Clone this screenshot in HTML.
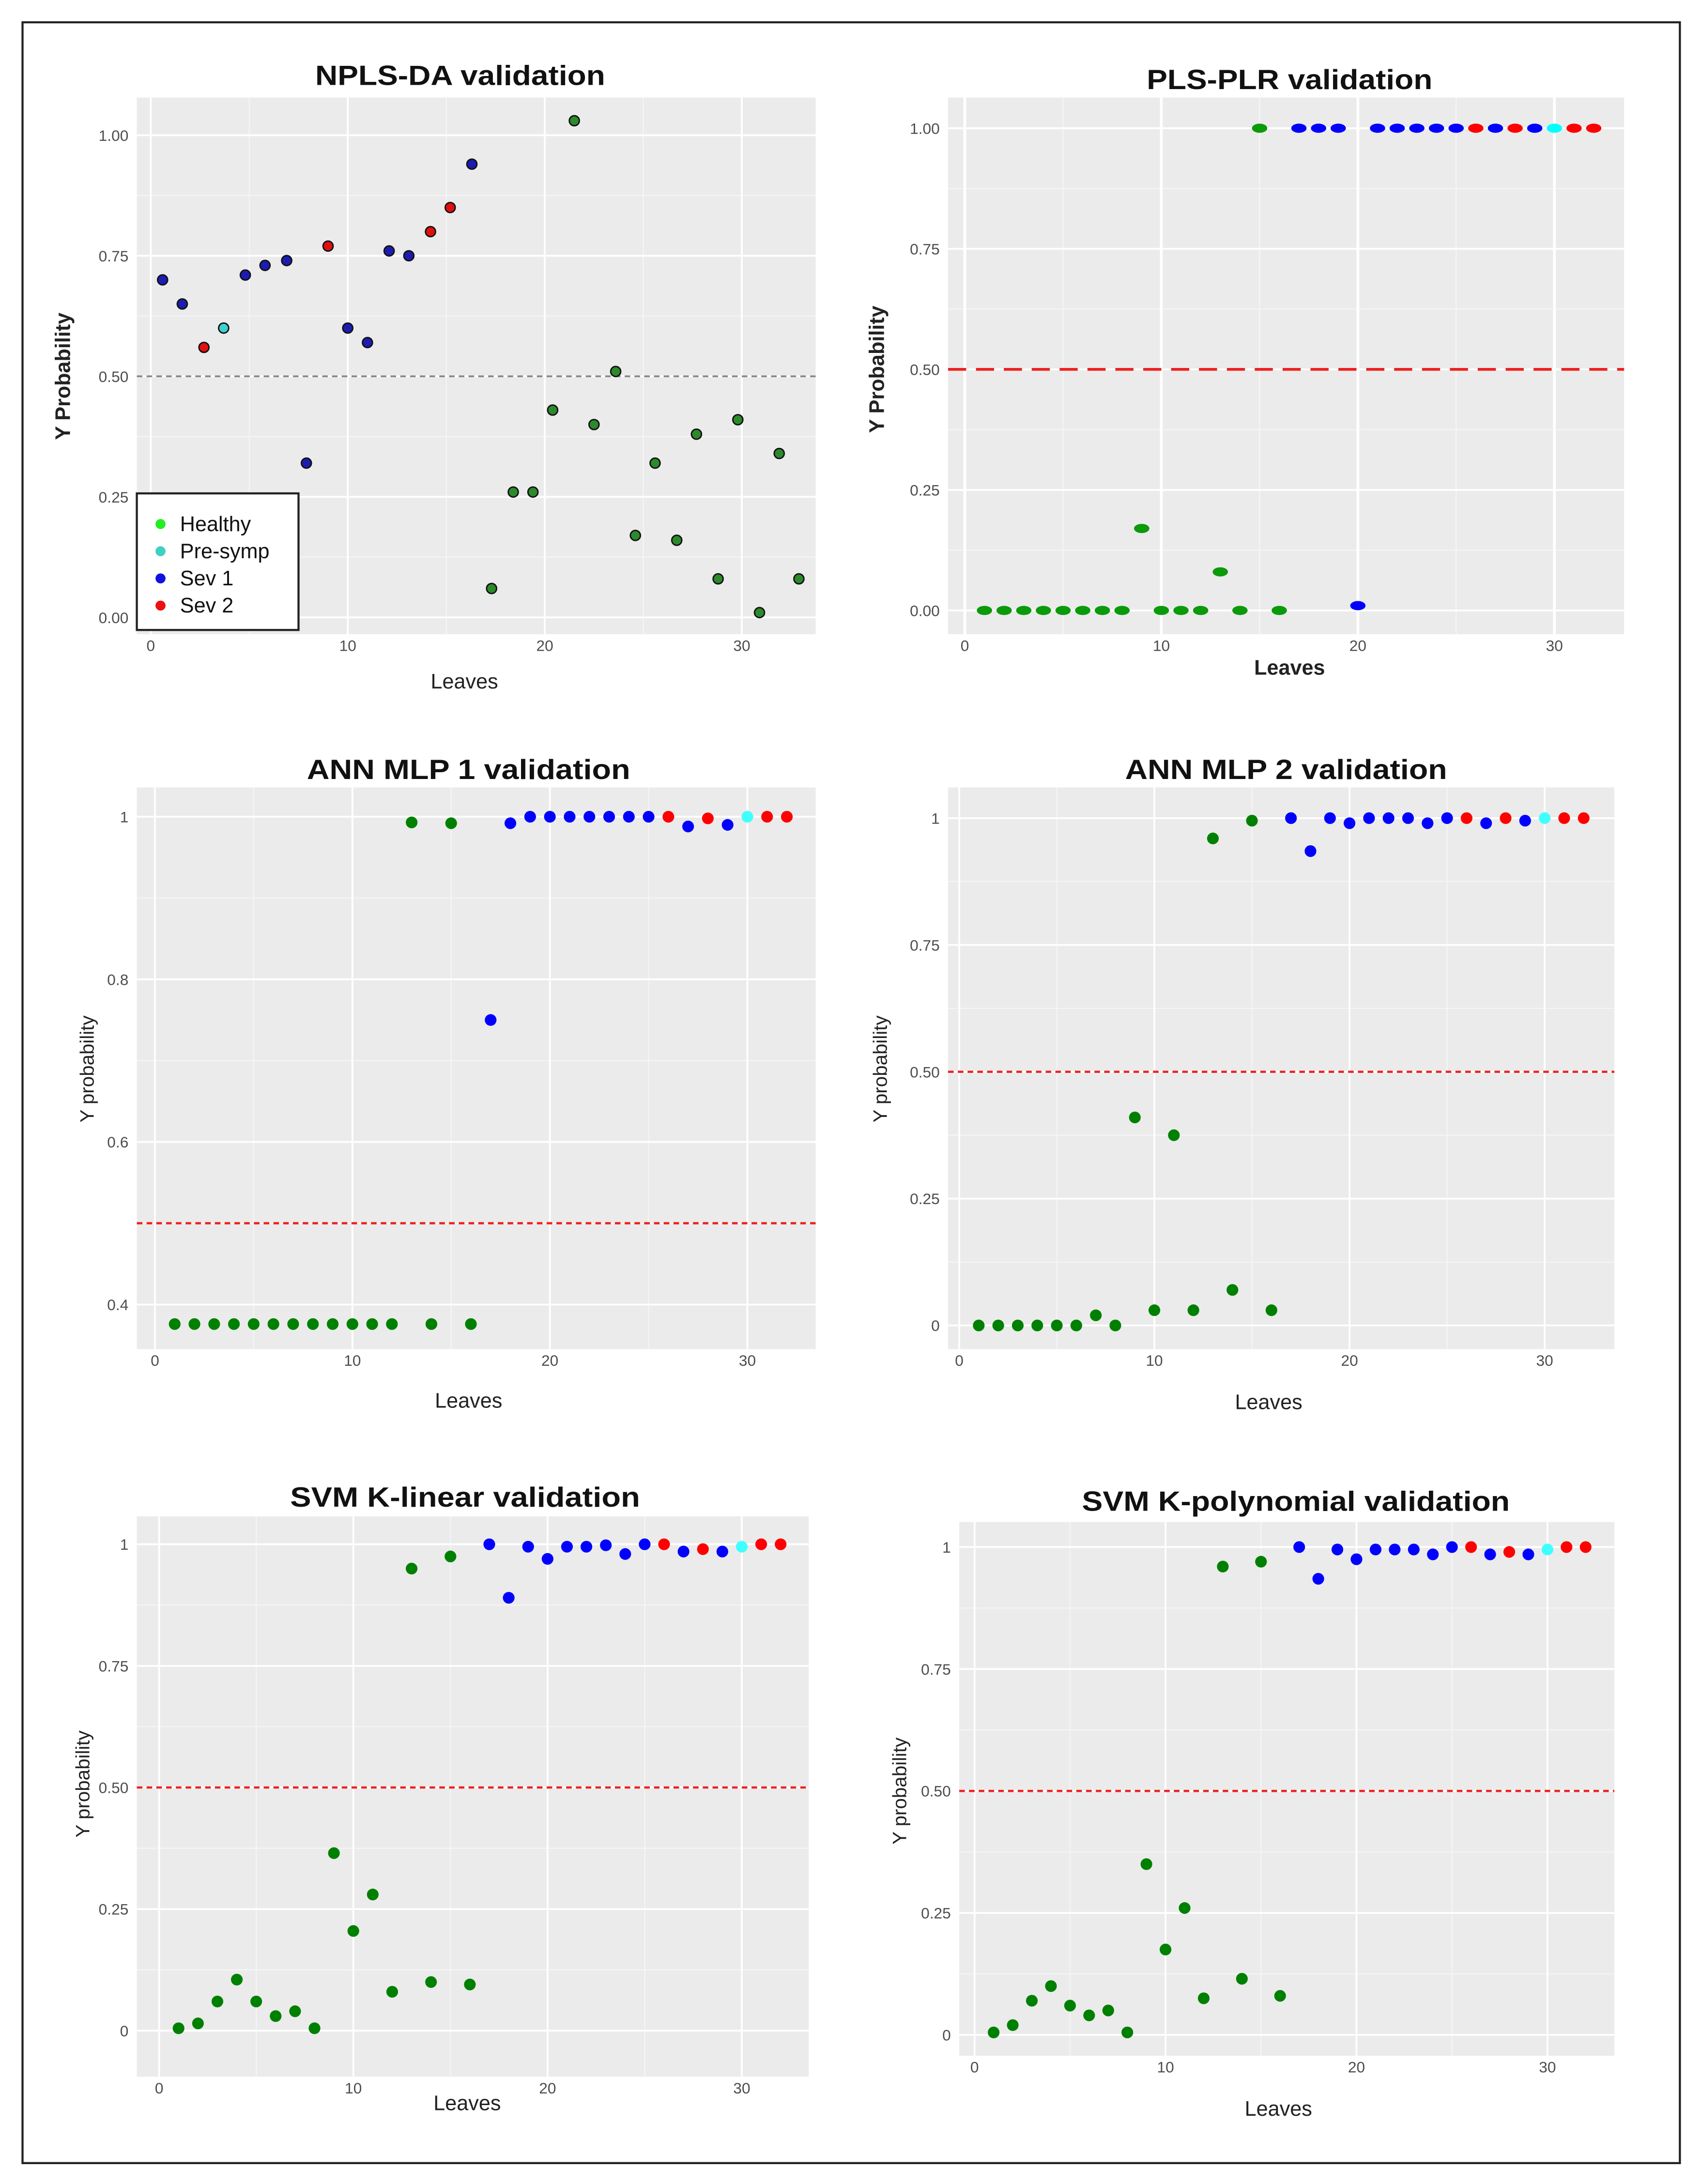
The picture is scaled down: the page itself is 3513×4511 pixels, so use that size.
<!DOCTYPE html>
<html><head><meta charset="utf-8"><style>
html,body{margin:0;padding:0;background:#fff}
svg{display:block}
text{font-family:"Liberation Sans",sans-serif}
</style></head><body>
<svg id="fig" width="3513" height="4511" viewBox="0 0 1220 1567" xmlns="http://www.w3.org/2000/svg">
<rect x="0" y="0" width="1220" height="1567" fill="#fff"/>
<rect x="16" y="16" width="1189" height="1536" fill="none" stroke="#222" stroke-width="1.5"/>
</svg>
<script>
// ---- data ----
const leaves=[1,2,3,4,5,6,7,8,9,10,11,12,13,14,15,16,17,18,19,20,21,22,23,24,25,26,27,28,29,30,31,32];
const p1X=[0.6,1.6,2.7,3.7,4.8,5.8,6.9,7.9,9.0,10.0,11.0,12.1,13.1,14.2,15.2,16.3,17.3,18.4,19.4,20.4,21.5,22.5,23.6,24.6,25.6,26.7,27.7,28.8,29.8,30.9,31.9,32.9];
const p1Y=[0.70,0.65,0.56,0.60,0.71,0.73,0.74,0.32,0.77,0.60,0.57,0.76,0.75,0.80,0.85,0.94,0.06,0.26,0.26,0.43,1.03,0.40,0.51,0.17,0.32,0.16,0.38,0.08,0.41,0.01,0.34,0.08];
const p1Cat=['s1','s1','s2','ps','s1','s1','s1','s1','s2','s1','s1','s1','s1','s2','s2','s1','h','h','h','h','h','h','h','h','h','h','h','h','h','h','h','h'];
const catStd=['h','h','h','h','h','h','h','h','h','h','h','h','h','h','h','h','s1','s1','s1','s1','s1','s1','s1','s1','s1','s2','s1','s2','s1','ps','s2','s2'];
const p2Y=[0,0,0,0,0,0,0,0,0.17,0,0,0,0.08,0,1,0,1,1,1,0.01,1,1,1,1,1,1,1,1,1,1,1,1];
const p3Y=[0.376,0.376,0.376,0.376,0.376,0.376,0.376,0.376,0.376,0.376,0.376,0.376,0.993,0.376,0.992,0.376,0.75,0.992,1,1,1,1,1,1,1,1,0.988,0.998,0.99,1,1,1];
const p4Y=[0,0,0,0,0,0,0.02,0,0.41,0.03,0.375,0.03,0.96,0.07,0.995,0.03,1,0.935,1,0.99,1,1,1,0.99,1,1,0.99,1,0.995,1,1,1];
const p5Y=[0.005,0.015,0.06,0.105,0.06,0.03,0.04,0.005,0.365,0.205,0.28,0.08,0.95,0.10,0.975,0.095,1,0.89,0.995,0.97,0.995,0.995,0.998,0.98,1,1,0.985,0.99,0.985,0.995,1,1];
const p6Y=[0.005,0.02,0.07,0.10,0.06,0.04,0.05,0.005,0.35,0.175,0.26,0.075,0.96,0.115,0.97,0.08,1,0.935,0.995,0.975,0.995,0.995,0.995,0.985,1,1,0.985,0.99,0.985,0.995,1,1];
const xTicks=[0,10,20,30];
const yTicksA=[0,0.25,0.5,0.75,1];
const yLabA=['0.00','0.25','0.50','0.75','1.00'];
const yTicksB=[0,0.25,0.5,0.75,1];
const yLabB=['0','0.25','0.50','0.75','1'];
const yTicksC=[0.4,0.6,0.8,1];
const yLabC=['0.4','0.6','0.8','1'];
const legendCats=['h','ps','s1','s2'];
const legendNames=['Healthy','Pre-symp','Sev 1','Sev 2'];

const svg=document.getElementById('fig');
const NS='http://www.w3.org/2000/svg';
function mk(tag,attrs,parent){const e=document.createElementNS(NS,tag);for(const k in attrs)e.setAttribute(k,attrs[k]);(parent||svg).appendChild(e);return e;}

const colA={h:'#2b8a2b',ps:'#3fd0d0',s1:'#1c1cb0',s2:'#e01010'};
const colB={h:'#0a9a0a',ps:'#00ffff',s1:'#0000ff',s2:'#ff0000'};
const colC={h:'#008000',ps:'#40ffff',s1:'#0000ff',s2:'#ff0000'};

function panel(cfg){
  const g=mk('g',{});
  
  
  const sx=v=>cfg.x0+(cfg.x30-cfg.x0)*v/30;
  const sy=v=>cfg.yb+(cfg.yt-cfg.yb)*(v-cfg.vb)/(cfg.vt-cfg.vb);
  const bg=mk('rect',{x:cfg.l,y:cfg.t,width:cfg.r-cfg.l,height:cfg.b-cfg.t,fill:'#ebebeb'},g);
  
  
  [5,15,25].forEach(v=>mk('line',{x1:sx(v),x2:sx(v),y1:cfg.t,y2:cfg.b,stroke:'#f6f6f6','stroke-width':0.7},g));
  for(let i=0;i<cfg.yt_.length-1;i++){const m=(cfg.yt_[i]+cfg.yt_[i+1])/2;mk('line',{x1:cfg.l,x2:cfg.r,y1:sy(m),y2:sy(m),stroke:'#f6f6f6','stroke-width':0.7},g);}
  xTicks.forEach(v=>mk('line',{x1:sx(v),x2:sx(v),y1:cfg.t,y2:cfg.b,stroke:'#fff','stroke-width':cfg.vw||1.3},g));
  cfg.yt_.forEach(v=>mk('line',{x1:cfg.l,x2:cfg.r,y1:sy(v),y2:sy(v),stroke:'#fff','stroke-width':1.3},g));
  xTicks.forEach(v=>{const t=mk('text',{x:sx(v),y:cfg.b+12,'font-size':11,fill:'#4d4d4d','text-anchor':'middle'},g);t.textContent=v;
    });
  cfg.yt_.forEach((v,i)=>{const t=mk('text',{x:cfg.l-6,y:sy(v)+4,'font-size':11,fill:'#4d4d4d','text-anchor':'end'},g);t.textContent=cfg.yl_[i];
    });
  if(cfg.thr){const d=mk('line',{x1:cfg.l,x2:cfg.r,y1:sy(0.5),y2:sy(0.5),stroke:cfg.thr,'stroke-width':cfg.thrW,'stroke-dasharray':cfg.dash},g);
    }
  cfg.ys.forEach((v,i)=>{
    const cx=sx(cfg.xs[i]),cy=sy(v),c=cfg.col[cfg.cats[i]];
    let p;
    if(cfg.shape==='oval') p=mk('ellipse',{cx:cx,cy:cy,rx:5.5,ry:3.3,fill:c},g);
    else if(cfg.shape==='outlined') p=mk('circle',{cx:cx,cy:cy,r:3.6,fill:c,stroke:'#111','stroke-width':1},g);
    else p=mk('circle',{cx:cx,cy:cy,r:4.2,fill:c},g);
    
    
  });
  const tt=mk('text',{x:cfg.tx,y:cfg.ty,'font-size':20,'font-weight':'bold',fill:'#111','text-anchor':'middle',textLength:cfg.tw,lengthAdjust:'spacingAndGlyphs'},g);tt.textContent=cfg.title;
  
  const xl=mk('text',{x:cfg.xlx,y:cfg.xly,'font-size':cfg.xlfs||15,'font-weight':cfg.xlb?'bold':'normal',fill:'#222','text-anchor':'middle'},g);xl.textContent='Leaves';
  
  const yl=mk('text',{x:0,y:0,'font-size':cfg.ylfs||14,'font-weight':cfg.ylb?'bold':'normal',fill:'#222','text-anchor':'middle',transform:`translate(${cfg.ylx},${cfg.yly}) rotate(-90)`},g);yl.textContent=cfg.ylab;
  
  return {g,sx,sy};
}

panel({name:'npls-da-panel',l:98,r:585,t:70,b:455,x0:108,x30:532,yt:97,vt:1,yb:443,vb:0,yt_:yTicksA,yl_:yLabA,
  xs:p1X,ys:p1Y,cats:p1Cat,col:colA,shape:'outlined',thr:'#888',thrW:1.3,dash:'4,3',
  title:'NPLS-DA validation',tx:330,ty:61,tw:208,xlx:333,xly:494,ylab:'Y Probability',ylx:50,yly:270,ylb:true,ylfs:15});
const lg=mk('g',{});


mk('rect',{x:98,y:354,width:116,height:98,fill:'#fff',stroke:'#222','stroke-width':1.5},lg);
legendCats.forEach((c,i)=>{
  const e=mk('g',{},lg);
  
  
  const lc={h:'#22ee22',ps:'#3fd0c0',s1:'#1010e0',s2:'#ee1010'}[c];
  mk('circle',{cx:115,cy:376+i*19.5,r:3.6,fill:lc},e);
  const t=mk('text',{x:129,y:381+i*19.5,'font-size':15,fill:'#111'},e);t.textContent=legendNames[i];
});

panel({name:'pls-plr-panel',l:680,r:1165,t:70,b:455,x0:692,x30:1115,yt:92,vt:1,yb:438,vb:0,yt_:yTicksA,yl_:yLabA,vw:2,
  xs:leaves,ys:p2Y,cats:catStd,col:colB,shape:'oval',thr:'#ee2020',thrW:2,dash:'13,7',
  title:'PLS-PLR validation',tx:925,ty:64,tw:205,xlx:925,xly:484,xlb:true,ylab:'Y Probability',ylx:634,yly:265,ylb:true,ylfs:15});

panel({name:'ann-mlp1-panel',l:98,r:585,t:565,b:968,x0:111,x30:536,yt:586,vt:1,yb:936,vb:0.4,yt_:yTicksC,yl_:yLabC,
  xs:leaves,ys:p3Y,cats:catStd,col:colC,shape:'dot',thr:'#ee2020',thrW:1.6,dash:'4,3',
  title:'ANN MLP 1 validation',tx:336,ty:559,tw:232,xlx:336,xly:1010,ylab:'Y probability',ylx:67,yly:767});

panel({name:'ann-mlp2-panel',l:680,r:1158,t:565,b:968,x0:688,x30:1108,yt:587,vt:1,yb:951,vb:0,yt_:yTicksB,yl_:yLabB,
  xs:leaves,ys:p4Y,cats:catStd,col:colC,shape:'dot',thr:'#ee2020',thrW:1.6,dash:'4,3',
  title:'ANN MLP 2 validation',tx:922.5,ty:559,tw:231,xlx:910,xly:1011,ylab:'Y probability',ylx:636,yly:767});

panel({name:'svm-linear-panel',l:98,r:580,t:1088,b:1490,x0:114,x30:532,yt:1108,vt:1,yb:1457,vb:0,yt_:yTicksB,yl_:yLabB,
  xs:leaves,ys:p5Y,cats:catStd,col:colC,shape:'dot',thr:'#ee2020',thrW:1.6,dash:'4,3',
  title:'SVM K-linear validation',tx:333.5,ty:1081,tw:251,xlx:335,xly:1514,ylab:'Y probability',ylx:64,yly:1280});

panel({name:'svm-polynomial-panel',l:688,r:1158,t:1092,b:1475,x0:699,x30:1110,yt:1110,vt:1,yb:1460,vb:0,yt_:yTicksB,yl_:yLabB,
  xs:leaves,ys:p6Y,cats:catStd,col:colC,shape:'dot',thr:'#ee2020',thrW:1.6,dash:'4,3',
  title:'SVM K-polynomial validation',tx:929.5,ty:1084,tw:307,xlx:917,xly:1518,ylab:'Y probability',ylx:650,yly:1285});
</script>
</body></html>
